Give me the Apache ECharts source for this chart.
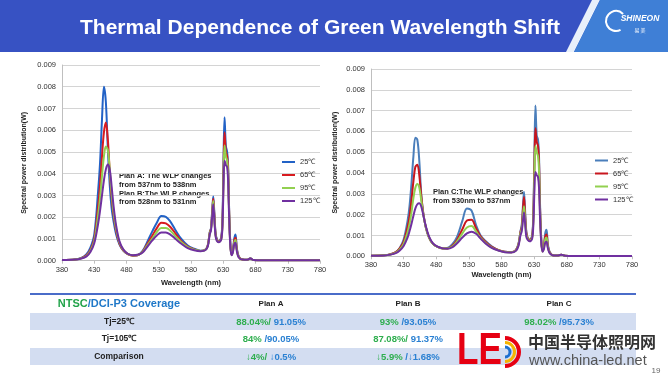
<!DOCTYPE html>
<html>
<head>
<meta charset="utf-8">
<title>Thermal Dependence of Green Wavelength Shift</title>
<script src="https://cdn.jsdelivr.net/npm/echarts@6/dist/echarts.min.js"></script>
<style>
  html, body { margin: 0; padding: 0; background: #fff; }
  #chart { width: 668px; height: 376px; }
</style>
</head>
<body>
<div id="chart"></div>
<script>
// wavelength grid (nm), shared by every curve
const wavelengths = [380, 400, 410, 418, 424, 430, 436, 439, 442, 445, 448, 451, 454, 457, 460,
  464, 469, 475, 482, 490, 497, 505, 512, 520, 527, 534, 541, 548, 556, 565, 575, 585, 595,
  602, 606, 609, 611, 613, 614.5, 616, 618, 620, 623, 627, 629, 630.5, 632, 634, 636, 637.5,
  639, 641, 643, 645, 647, 649, 651, 654, 660, 667, 672, 677, 690, 780];

const tempNames = ['25℃', '65℃', '95℃', '125℃'];

// Plan A / Plan B spectra (values in mW)
const abT25 = [0.03, 0.05, 0.13, 0.3, 0.6, 1.2, 3.2, 4.5, 6.5, 8.0, 7.3, 5.2, 3.5, 2.4, 1.8,
  1.2, 0.75, 0.46, 0.3, 0.24, 0.25, 0.45, 0.85, 1.35, 1.75, 2.05, 2.02, 1.8, 1.4, 1.0, 0.7, 0.55, 0.46,
  0.5, 0.7, 1.3, 1.5, 2.4, 2.95, 2.3, 1.3, 1.0, 0.88, 1.1, 2.2, 4.8, 6.6, 5.3, 5.0, 4.4,
  2.5, 0.8, 0.28, 0.5, 1.0, 1.2, 0.6, 0.2, 0.05, 0.04, 0.11, 0.03, 0.02, 0.02];
const abT65 = [0.03, 0.05, 0.12, 0.25, 0.5, 1.0, 2.5, 3.5, 4.8, 5.9, 6.35, 5.6, 4.1, 2.9, 2.1,
  1.35, 0.8, 0.47, 0.3, 0.23, 0.25, 0.42, 0.76, 1.15, 1.5, 1.75, 1.72, 1.55, 1.25, 0.9, 0.65, 0.52, 0.45,
  0.5, 0.7, 1.28, 1.48, 2.3, 2.85, 2.2, 1.25, 0.98, 0.87, 1.05, 2.0, 4.3, 5.9, 5.0, 4.8, 4.2,
  2.4, 0.75, 0.27, 0.45, 0.9, 1.05, 0.55, 0.18, 0.05, 0.04, 0.1, 0.03, 0.02, 0.02];
const abT95 = [0.03, 0.05, 0.11, 0.22, 0.45, 0.9, 2.1, 2.9, 3.9, 4.8, 5.25, 5.1, 4.2, 3.1, 2.25,
  1.45, 0.85, 0.5, 0.31, 0.24, 0.26, 0.4, 0.7, 1.02, 1.32, 1.5, 1.5, 1.38, 1.12, 0.85, 0.62, 0.5, 0.45,
  0.5, 0.68, 1.25, 1.45, 2.2, 2.75, 2.1, 1.2, 0.95, 0.86, 1.0, 1.9, 4.0, 5.3, 4.8, 4.6, 4.0,
  2.3, 0.7, 0.26, 0.42, 0.82, 0.95, 0.5, 0.17, 0.05, 0.04, 0.1, 0.03, 0.02, 0.02];
const abT125 = [0.03, 0.05, 0.1, 0.2, 0.4, 0.8, 1.7, 2.3, 3.0, 3.7, 4.2, 4.42, 4.2, 3.4, 2.5,
  1.6, 0.9, 0.52, 0.32, 0.25, 0.27, 0.38, 0.63, 0.93, 1.16, 1.3, 1.3, 1.2, 1.0, 0.78, 0.58, 0.48, 0.44,
  0.48, 0.66, 1.2, 1.4, 2.1, 2.6, 2.0, 1.15, 0.92, 0.85, 0.98, 1.8, 3.6, 4.6, 4.4, 4.3, 3.7,
  2.1, 0.65, 0.25, 0.4, 0.75, 0.82, 0.45, 0.15, 0.05, 0.04, 0.1, 0.03, 0.02, 0.02];

// Plan C spectra (mW, right chart)
const cT25 = [0.03, 0.05, 0.1, 0.2, 0.4, 0.8, 1.7, 2.4, 3.5, 4.8, 5.7, 5.6, 4.6, 3.0, 2.1,
  1.4, 0.9, 0.6, 0.45, 0.38, 0.4, 0.6, 0.95, 1.7, 2.3, 2.2, 1.5, 1.0, 0.72, 0.48, 0.3, 0.22, 0.2,
  0.3, 0.6, 1.2, 1.5, 2.5, 3.1, 2.3, 1.2, 0.9, 0.8, 1.0, 2.4, 5.0, 7.25, 5.8, 5.6, 4.8,
  2.6, 0.8, 0.25, 0.5, 1.1, 1.27, 0.6, 0.2, 0.04, 0.04, 0.08, 0.03, 0.01, 0.01];
const cT65 = [0.03, 0.05, 0.1, 0.2, 0.38, 0.7, 1.4, 1.9, 2.7, 3.6, 4.3, 4.4, 3.9, 2.9, 2.1,
  1.4, 0.9, 0.6, 0.45, 0.38, 0.38, 0.52, 0.8, 1.3, 1.72, 1.76, 1.35, 0.95, 0.68, 0.45, 0.3, 0.22, 0.2,
  0.3, 0.58, 1.15, 1.4, 2.3, 2.85, 2.1, 1.15, 0.88, 0.78, 0.95, 2.2, 4.5, 6.15, 5.5, 5.3, 4.5,
  2.4, 0.75, 0.24, 0.45, 0.95, 1.05, 0.52, 0.18, 0.04, 0.04, 0.08, 0.03, 0.01, 0.01];
const cT95 = [0.03, 0.05, 0.09, 0.18, 0.33, 0.6, 1.15, 1.55, 2.1, 2.8, 3.3, 3.48, 3.3, 2.7, 2.05,
  1.4, 0.9, 0.6, 0.45, 0.38, 0.37, 0.48, 0.72, 1.1, 1.38, 1.45, 1.2, 0.88, 0.63, 0.42, 0.29, 0.21, 0.19,
  0.28, 0.55, 1.1, 1.3, 2.0, 2.4, 1.85, 1.05, 0.84, 0.75, 0.9, 2.0, 4.0, 5.3, 5.0, 4.8, 4.1,
  2.2, 0.7, 0.23, 0.4, 0.82, 0.9, 0.47, 0.16, 0.04, 0.04, 0.08, 0.03, 0.01, 0.01];
const cT125 = [0.03, 0.04, 0.08, 0.15, 0.28, 0.5, 0.9, 1.2, 1.55, 1.95, 2.3, 2.5, 2.55, 2.4, 2.0,
  1.45, 0.95, 0.62, 0.46, 0.38, 0.36, 0.44, 0.63, 0.9, 1.1, 1.18, 1.08, 0.85, 0.6, 0.4, 0.28, 0.2, 0.18,
  0.26, 0.5, 1.0, 1.2, 1.75, 2.1, 1.65, 0.95, 0.8, 0.72, 0.85, 1.7, 3.2, 4.05, 3.9, 3.8, 3.3,
  1.9, 0.62, 0.22, 0.35, 0.65, 0.7, 0.4, 0.14, 0.04, 0.04, 0.08, 0.03, 0.01, 0.01];

const xTicks = [380, 430, 480, 530, 580, 630, 680, 730, 780];
const yTicks = ['0.000', '0.001', '0.002', '0.003', '0.004', '0.005', '0.006', '0.007', '0.008', '0.009'];

// coverage table
const planNames = ['Plan A', 'Plan B', 'Plan C'];
const rowLabels = ['Tj=25℃', 'Tj=105℃', 'Comparison'];
const ntscCells = [['88.04%/', '93%', '98.02%'], ['84%', '87.08%/', ''], ['↓4%/', '↓5.9%', '']];
const dciCells = [[' 91.05%', ' /93.05%', ' /95.73%'], [' /90.05%', ' 91.37%', ''], [' ↓0.5%', ' /↓1.68%', '']];

const noteAB = ['Plan A: The WLP changes', 'from 537nm to 538nm', 'Plan B:The WLP changes', 'from 528nm to 531nm'];
const noteC = ['Plan C:The WLP changes', 'from 530nm to 537nm'];

const abColors = ['#2262c6', '#d81b1f', '#92d050', '#7030a0'];
const cColors = ['#4a7ebb', '#c8161e', '#92d050', '#7030a0'];
const FONT = 'Liberation Sans, Arial, sans-serif';

const chart = echarts.init(document.getElementById('chart'));

function lineSeries(name, values, color, idx) {
  return {
    name: name,
    type: 'line',
    xAxisIndex: idx,
    yAxisIndex: idx,
    data: wavelengths.map((w, i) => [w, values[i] / 1000]),
    showSymbol: false,
    smooth: 0.35,
    lineStyle: { width: 2, color: color },
    itemStyle: { color: color }
  };
}

function xAxisOf(idx, gap) {
  return {
    type: 'value', gridIndex: idx,
    min: xTicks[0], max: xTicks[xTicks.length - 1], interval: xTicks[1] - xTicks[0],
    name: 'Wavelength (nm)', nameLocation: 'middle', nameGap: gap,
    nameTextStyle: { fontSize: 7.5, fontWeight: 'bold', color: '#222', fontFamily: FONT },
    axisLine: { lineStyle: { color: '#bfbfbf' } },
    axisTick: { show: true, length: 3, lineStyle: { color: '#bfbfbf' } },
    axisLabel: { fontSize: 7.5, color: '#333', margin: 5, fontFamily: FONT },
    splitLine: { show: false }
  };
}

function yAxisOf(idx, gap) {
  return {
    type: 'value', gridIndex: idx,
    min: 0, max: Number(yTicks[yTicks.length - 1]), interval: 0.001,
    name: 'Spectral power distribution(W)', nameLocation: 'middle', nameGap: gap,
    nameTextStyle: { fontSize: 7, fontWeight: 'bold', color: '#222', fontFamily: FONT },
    axisLine: { show: true, lineStyle: { color: '#bfbfbf' } },
    axisTick: { show: false },
    axisLabel: { fontSize: 7.5, color: '#333', margin: 6, fontFamily: FONT,
      formatter: v => yTicks[Math.round(v * 1000)] },
    splitLine: { lineStyle: { color: '#d4d4d4' } }
  };
}

function legendOf(left, top, colors) {
  return {
    orient: 'vertical', left: left, top: top,
    selectedMode: false, icon: 'rect', itemWidth: 13, itemHeight: 2, itemGap: 4,
    textStyle: { fontSize: 7.5, color: '#333', lineHeight: 9, fontFamily: FONT },
    data: tempNames.map((n, i) => ({ name: n, itemStyle: { color: colors[i] } }))
  };
}

// one text element per annotation line
function noteLines(x, ys, lines) {
  return lines.map((t, i) => ({ type: 'text', x: x, y: ys[i], style: {
    text: t, verticalAlign: 'middle', fill: '#222', fontSize: 7.5, fontWeight: 'bold', fontFamily: FONT } }));
}

// table graphics
const tableX = [271, 408, 559];
const rowY = [322, 339, 357];
const tableGraphics = [
  { type: 'rect', shape: { x: 30, y: 313, width: 606, height: 17 }, style: { fill: '#d3ddf1' } },
  { type: 'rect', shape: { x: 30, y: 348, width: 606, height: 17 }, style: { fill: '#d3ddf1' } },
  { type: 'line', shape: { x1: 30, y1: 294, x2: 636, y2: 294 }, style: { stroke: '#4a6cc9', lineWidth: 2 } },
  { type: 'text', x: 119, y: 304, style: {
      text: '{g|NTSC}{b|/DCI-P3 Coverage}', align: 'center', verticalAlign: 'middle',
      rich: {
        g: { fill: '#22a34a', fontSize: 11, fontWeight: 'bold', fontFamily: FONT },
        b: { fill: '#1f78c8', fontSize: 11, fontWeight: 'bold', fontFamily: FONT }
      } } }
];
planNames.forEach((p, j) => {
  tableGraphics.push({ type: 'text', x: tableX[j], y: 304, style: {
    text: p, align: 'center', verticalAlign: 'middle', fill: '#222',
    fontSize: 8, fontWeight: 'bold', fontFamily: FONT } });
});
rowLabels.forEach((r, i) => {
  tableGraphics.push({ type: 'text', x: 119, y: rowY[i], style: {
    text: r, align: 'center', verticalAlign: 'middle', fill: '#222',
    fontSize: 8.5, fontWeight: 'bold', fontFamily: FONT } });
  for (let j = 0; j < 3; j++) {
    if (!ntscCells[i][j]) continue;
    tableGraphics.push({ type: 'text', x: tableX[j], y: rowY[i], style: {
      text: '{g|' + ntscCells[i][j] + '}{b|' + dciCells[i][j] + '}',
      align: 'center', verticalAlign: 'middle',
      rich: {
        g: { fill: '#2fae4f', fontSize: 9.5, fontWeight: 'bold', fontFamily: FONT },
        b: { fill: '#2a80d2', fontSize: 9.5, fontWeight: 'bold', fontFamily: FONT }
      } } });
  }
});

const option = {
  animation: false,
  backgroundColor: '#fff',
  grid: [
    { left: 62, top: 65, width: 258, height: 195.7 },
    { left: 371, top: 69, width: 261, height: 187.3 }
  ],
  xAxis: [xAxisOf(0, 13), xAxisOf(1, 15)],
  yAxis: [yAxisOf(0, 34), yAxisOf(1, 32)],
  legend: [legendOf(277, 152.5, abColors), legendOf(590, 151, cColors)],
  series: [
    lineSeries(tempNames[0], abT25, abColors[0], 0),
    lineSeries(tempNames[1], abT65, abColors[1], 0),
    lineSeries(tempNames[2], abT95, abColors[2], 0),
    lineSeries(tempNames[3], abT125, abColors[3], 0),
    lineSeries(tempNames[0], cT25, cColors[0], 1),
    lineSeries(tempNames[1], cT65, cColors[1], 1),
    lineSeries(tempNames[2], cT95, cColors[2], 1),
    lineSeries(tempNames[3], cT125, cColors[3], 1)
  ],
  graphic: [
    // header banner
    { type: 'rect', shape: { x: 0, y: 0, width: 668, height: 52 }, style: { fill: '#3752c3' }, z: 0 },
    { type: 'polygon', shape: { points: [[566, 52], [592, 0], [600, 0], [574, 52]] }, style: { fill: '#e8f0fb' } },
    { type: 'polygon', shape: { points: [[574, 52], [600, 0], [668, 0], [668, 52]] }, style: { fill: '#3f7fd6' } },
    { type: 'arc', shape: { cx: 616, cy: 21, r: 10, startAngle: Math.PI * 0.35, endAngle: Math.PI * 1.75 },
      style: { stroke: '#fff', lineWidth: 2, fill: null } },
    { type: 'text', x: 640, y: 19, style: { text: 'SHINEON', align: 'center', verticalAlign: 'middle',
      fill: '#fff', fontSize: 8.5, fontWeight: 'bold', fontStyle: 'italic', fontFamily: FONT } },
    { type: 'text', x: 640, y: 30, style: { text: '易 美', align: 'center', verticalAlign: 'middle',
      fill: '#fff', fontSize: 5, fontFamily: 'Noto Sans CJK SC' } },
    { type: 'text', x: 320, y: 28, style: { text: 'Thermal Dependence of Green Wavelength Shift',
      align: 'center', verticalAlign: 'middle', fill: '#fff', fontSize: 21, fontWeight: 'bold', fontFamily: FONT } },
    // annotations
    ...noteLines(119, [176, 184.5, 193.5, 202], noteAB),
    ...noteLines(433, [192, 200.5], noteC),
    ...tableGraphics,
    // LED logo watermark
    { type: 'text', x: 457, y: 352, scaleX: 0.8, style: { text: 'LE', verticalAlign: 'middle', fill: '#e60012',
      fontSize: 44, fontWeight: 'bold', fontFamily: FONT } },
    { type: 'arc', shape: { cx: 505, cy: 352, r: 14, startAngle: -Math.PI / 2, endAngle: Math.PI / 2 },
      style: { stroke: '#e60012', lineWidth: 4, fill: null } },
    { type: 'arc', shape: { cx: 505, cy: 352, r: 9.5, startAngle: -Math.PI / 2, endAngle: Math.PI / 2 },
      style: { stroke: '#f5b400', lineWidth: 3, fill: null } },
    { type: 'arc', shape: { cx: 505, cy: 352, r: 5, startAngle: -Math.PI / 2, endAngle: Math.PI / 2 },
      style: { stroke: '#1d6fd0', lineWidth: 3, fill: null } },
    { type: 'text', x: 528, y: 342, style: { text: '中国半导体照明网', verticalAlign: 'middle',
      fill: '#333', fontSize: 16, fontWeight: 'bold', fontFamily: 'Noto Sans CJK SC' } },
    { type: 'text', x: 529, y: 361, style: { text: 'www.china-led.net', verticalAlign: 'middle',
      fill: '#555', fontSize: 14.5, fontFamily: FONT } },
    { type: 'text', x: 656, y: 371, style: { text: '19', align: 'center', verticalAlign: 'middle',
      fill: '#666', fontSize: 8, fontFamily: FONT } }
  ]
};

chart.setOption(option);
</script>
</body>
</html>
